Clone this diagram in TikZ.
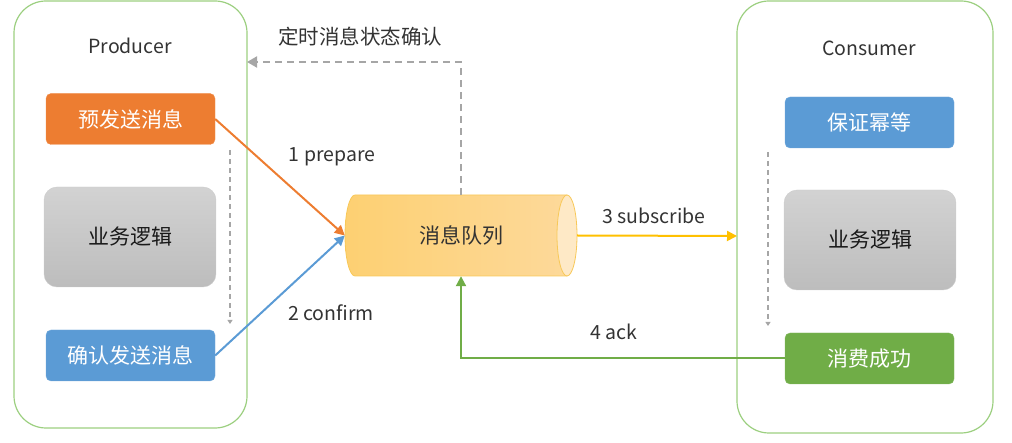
\documentclass[tikz,border=0pt]{standalone}
\usepackage{fontspec}
\setmainfont{Noto Sans CJK SC}
\usetikzlibrary{arrows.meta}
\definecolor{cont}{HTML}{9CCF80}
\definecolor{org}{HTML}{ED7D31}
\definecolor{blu}{HTML}{5B9BD5}
\definecolor{grn}{HTML}{70AD47}
\definecolor{ylw}{HTML}{FFC000}
\definecolor{dgray}{HTML}{A6A6A6}
\definecolor{txt}{HTML}{333333}
\definecolor{cyl1}{HTML}{FDD072}
\definecolor{cyl2}{HTML}{FDD99A}
\definecolor{cylb}{HTML}{F8C858}
\definecolor{cylend}{HTML}{FEE9C6}
\tikzset{
  colbox/.style={fill=#1, draw=#1!85!white, rounded corners=5pt, minimum width=169pt, minimum height=51pt, inner sep=0pt, text=white, font=\fontsize{21}{21}\selectfont},
  graybox/.style={top color=gray!35, bottom color=gray!52, draw=gray!40, rounded corners=13pt, minimum width=172pt, minimum height=100pt, inner sep=0pt, text=black!90, font=\fontsize{21}{21}\selectfont},
  lbl/.style={text=txt, font=\fontsize{19.5}{19.5}\selectfont, inner sep=0pt},
  conn/.style={line width=2pt, -{Triangle[length=10pt,width=10pt]}},
  dashconn/.style={dgray, line width=2pt, dash pattern=on 7pt off 5pt, -{Triangle[length=10pt,width=11pt]}},
  smalldash/.style={dgray, line width=1.3pt, dash pattern=on 5pt off 4pt, -{Triangle[length=4pt,width=5pt]}},
}
\begin{document}
\begin{tikzpicture}[x=1pt,y=-1pt]
\useasboundingbox (0,0) rectangle (1012,443);
% containers
\draw[draw=cont, line width=1.2pt, rounded corners=32pt] (14,1) rectangle (247,428);
\draw[draw=cont, line width=1.2pt, rounded corners=32pt] (737,1) rectangle (993,433);
\coordinate (prodR) at (247,62);
\coordinate (consL) at (737,236);
\node[lbl] (prod) at (130,46) {Producer};
\node[lbl] (cons) at (869,48) {Consumer};
% producer boxes
\node[colbox=org] (pre) at (130.5,119) {预发送消息};
\node[graybox] (biz1) at (130,237) {业务逻辑};
\node[colbox=blu] (conf) at (130.5,355.5) {确认发送消息};
% consumer boxes
\node[colbox=blu] (idem) at (869.5,122.5) {保证幂等};
\node[graybox] (biz2) at (870,240) {业务逻辑};
\node[colbox=grn] (succ) at (869.5,358.5) {消费成功};
% small dashed flows
\coordinate (d1a) at (230,150);
\coordinate (d1b) at (230,324);
\draw[smalldash] (d1a) -- (d1b);
\coordinate (d2a) at (768,152);
\coordinate (d2b) at (768,326);
\draw[smalldash] (d2a) -- (d2b);
% cylinder
\shade[left color=cyl1, right color=cyl2, draw=cylb, line width=0.8pt]
  (567,195) -- (355,195) arc[start angle=270, end angle=90, x radius=10, y radius=40.5] -- (567,276) -- cycle;
\draw[fill=cylend, draw=cylb, line width=0.8pt] (567,235.5) ellipse[x radius=10, y radius=40.5];
\node[inner sep=0pt, minimum width=232pt, minimum height=81pt, text=black!80, font=\fontsize{21}{21}\selectfont] (mq) at (461,235.5) {消息队列};
% connectors
\draw[conn, org] (pre.east) -- (mq.west);
\draw[conn, blu] (conf.east) -- (mq.west);
\draw[conn, ylw] (mq.east) -- (consL);
\draw[conn, grn] (succ.west) -| (mq.south);
\draw[dashconn] (mq.north) |- (prodR);
% labels
\node[lbl] (l1) at (332,157) {1 prepare};
\node[lbl] (l2) at (331,313) {2 confirm};
\node[lbl] (l3) at (654,216) {3 subscribe};
\node[lbl] (l4) at (614,332) {4 ack};
\node[lbl, font=\fontsize{20.5}{20.5}\selectfont] (title) at (360,37) {定时消息状态确认};
\end{tikzpicture}
\end{document}
